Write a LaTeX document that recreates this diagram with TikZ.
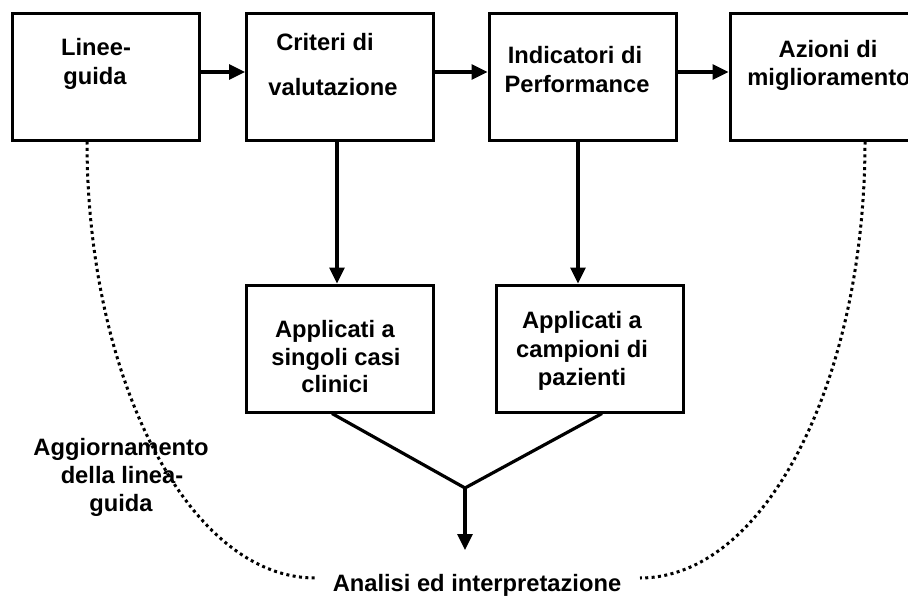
\documentclass[tikz,border=0pt]{standalone}
\usepackage{fontspec}
\setmainfont{Liberation Sans}
\usetikzlibrary{arrows.meta}
\begin{document}
\begin{tikzpicture}[x=1pt,y=-1pt,
  box/.style={draw,line width=3pt,minimum width=187pt,minimum height=127pt,inner sep=0pt},
  lbl/.style={anchor=base,inner sep=0pt,font=\fontsize{23.7}{28}\selectfont\bfseries},
  arr/.style={line width=3.2pt,-{Triangle[length=16pt,width=15pt]}},
  ln/.style={line width=3.2pt},
  dots/.style={line width=3pt,dash pattern=on 3pt off 3.4pt}]
\clip (0,0) rectangle (908,597);
% boxes
\node[box] (b1) at (106,76.5) {};
\node[box] (b2) at (340,76.5) {};
\node[box] (b3) at (582.5,76.5) {};
\node[box,minimum width=190pt] (b4) at (825,76.5) {};
\node[box] (b5) at (340,348.5) {};
\node[box] (b6) at (590,348.5) {};
% texts
\node[lbl] (t1a) at (96,55) {Linee-};
\node[lbl] (t1b) at (95,84) {guida};
\node[lbl] (t2a) at (325,50) {Criteri di};
\node[lbl] (t2b) at (333,95) {valutazione};
\node[lbl] (t3a) at (575,63) {Indicatori di};
\node[lbl] (t3b) at (577,92) {Performance};
\node[lbl] (t4a) at (828,57) {Azioni di};
\node[lbl] (t4b) at (829,85) {miglioramento};
\node[lbl] (t5a) at (335,337) {Applicati a};
\node[lbl] (t5b) at (336,365) {singoli casi};
\node[lbl] (t5c) at (335,392) {clinici};
\node[lbl] (t6a) at (582,328) {Applicati a};
\node[lbl] (t6b) at (582,357) {campioni di};
\node[lbl] (t6c) at (582,385) {pazienti};
\node[lbl] (ag1) at (121,455) {Aggiornamento};
\node[lbl] (ag2) at (122,483) {della linea-};
\node[lbl] (ag3) at (121,511) {guida};
\node[lbl] (an) at (477,591) {Analisi ed interpretazione};
% coordinates
\coordinate (jn) at (465,488);
\coordinate (ae) at (465,550);
\coordinate (dl) at (315,578);
\coordinate (dr) at (640,578);
% arrows
\draw[arr] ([yshift=4.5pt]b1.east) -- ([yshift=4.5pt]b2.west);
\draw[arr] ([yshift=4.5pt]b2.east) -- ([yshift=4.5pt]b3.west);
\draw[arr] ([yshift=4.5pt]b3.east) -- ([yshift=4.5pt]b4.west);
\draw[arr] ([xshift=-3pt]b2.south) -- ([xshift=-3pt]b5.north);
\draw[arr] ([xshift=-4.5pt]b3.south) -- ([xshift=-12pt]b6.north);
\draw[ln] ([xshift=-8pt]b5.south) -- (jn) -- ([xshift=12pt]b6.south);
\draw[arr] (jn) -- (ae);
% dotted feedback curves
\draw[dots] ([xshift=-19pt]b1.south) .. controls +(0,240) and +(-125,0) .. (dl);
\draw[dots] ([xshift=40pt]b4.south) .. controls +(0,240) and +(125,0) .. (dr);
\end{tikzpicture}
\end{document}
